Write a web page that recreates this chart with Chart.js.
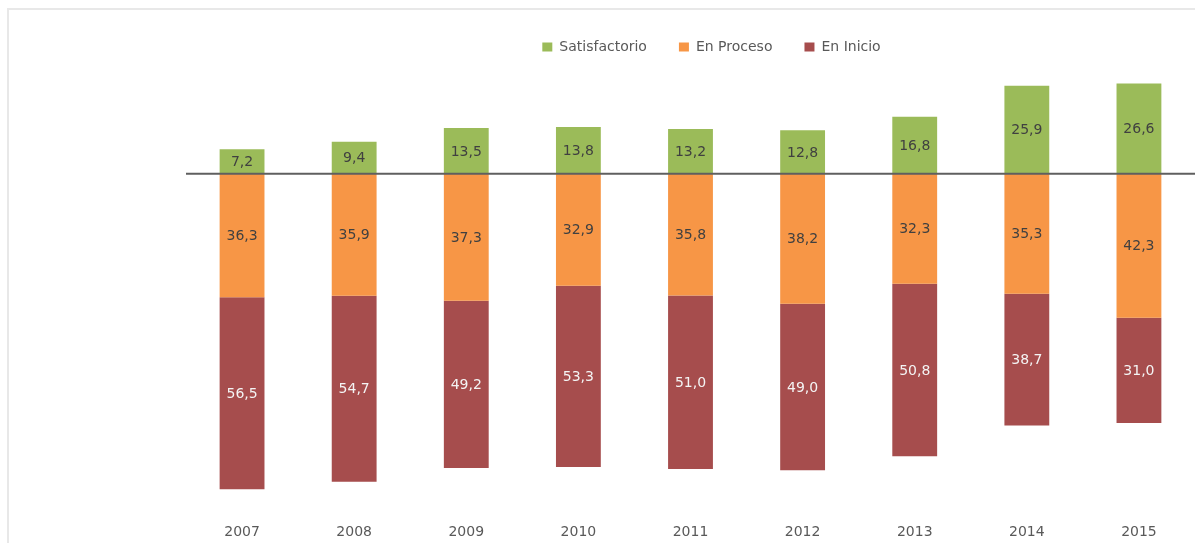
<!DOCTYPE html>
<html>
<head>
<meta charset="utf-8">
<script src="https://cdn.jsdelivr.net/npm/chart.js@4/dist/chart.umd.min.js"></script>
<style>
  html, body { margin: 0; padding: 0; background: #fff; }
  #wrap { position: relative; width: 1195px; height: 543px; overflow: hidden; }
  #frame {
    position: absolute; left: 7px; top: 8px; right: -10px; bottom: -10px;
    border-top: 2px solid #e8e8e8; border-left: 2px solid #e8e8e8;
  }
  #chart { position: absolute; left: 0; top: 0; }
</style>
</head>
<body>
<div id="wrap">
  <div id="frame"></div>
  <canvas id="chart" width="1195" height="543"></canvas>
</div>
<script>
const years = ['2007', '2008', '2009', '2010', '2011', '2012', '2013', '2014', '2015'];
const satisfactorio = [7.2, 9.4, 13.5, 13.8, 13.2, 12.8, 16.8, 25.9, 26.6];
const enProceso = [36.3, 35.9, 37.3, 32.9, 35.8, 38.2, 32.3, 35.3, 42.3];
const enInicio = [56.5, 54.7, 49.2, 53.3, 51.0, 49.0, 50.8, 38.7, 31.0];

const FONT = 'DejaVu Sans';
const LEGEND_SHIFT = 21; // legend is centred a bit right of the plot in the original

const fmt = v => Math.abs(v).toFixed(1).replace('.', ',');

// values printed in the middle of every segment
const segmentLabels = {
  id: 'segmentLabels',
  afterDatasetsDraw(chart) {
    const ctx = chart.ctx;
    ctx.save();
    ctx.font = `14px "${FONT}"`;
    ctx.textAlign = 'center';
    ctx.textBaseline = 'middle';
    chart.data.datasets.forEach((ds, i) => {
      chart.getDatasetMeta(i).data.forEach((bar, j) => {
        ctx.fillStyle = ds.labelColor;
        ctx.fillText(fmt(ds.data[j]), bar.x, (bar.y + bar.base) / 2 + 1);
      });
    });
    ctx.restore();
  }
};

// horizontal base line at zero
const zeroLine = {
  id: 'zeroLine',
  afterDatasetsDraw(chart) {
    const {ctx, chartArea} = chart;
    const y = chart.scales.y.getPixelForValue(0);
    ctx.save();
    ctx.strokeStyle = '#5f5f5f';
    ctx.lineWidth = 2;
    ctx.beginPath();
    ctx.moveTo(chartArea.left, y);
    ctx.lineTo(chartArea.right, y);
    ctx.stroke();
    ctx.restore();
  }
};

const legendShift = {
  id: 'legendShift',
  afterUpdate(chart) {
    chart.legend.left += LEGEND_SHIFT;
    chart.legend.right += LEGEND_SHIFT;
  }
};

new Chart(document.getElementById('chart').getContext('2d'), {
  type: 'bar',
  data: {
    labels: years,
    datasets: [
      {label: 'Satisfactorio', data: satisfactorio, backgroundColor: '#9bbb59', labelColor: '#404040'},
      {label: 'En Proceso', data: enProceso.map(v => -v), backgroundColor: '#f79646', labelColor: '#404040'},
      {label: 'En Inicio', data: enInicio.map(v => -v), backgroundColor: '#a64d4d', labelColor: '#f4f4f4'}
    ]
  },
  options: {
    responsive: false,
    animation: false,
    datasets: {
      bar: {categoryPercentage: 0.8, barPercentage: 0.5}
    },
    layout: {
      padding: {top: 8, left: 186, right: 0, bottom: -5}
    },
    scales: {
      x: {
        stacked: true,
        grid: {display: false, drawTicks: false},
        border: {display: false},
        ticks: {color: '#595959', padding: 7, font: {family: FONT, size: 14}}
      },
      y: {
        stacked: true,
        display: false,
        min: -101,
        max: 32.3
      }
    },
    plugins: {
      tooltip: {enabled: false},
      legend: {
        position: 'top',
        labels: {
          boxWidth: 10,
          boxHeight: 9,
          padding: 32,
          color: '#595959',
          font: {family: FONT, size: 14}
        }
      }
    }
  },
  plugins: [segmentLabels, zeroLine, legendShift]
});
</script>
</body>
</html>
